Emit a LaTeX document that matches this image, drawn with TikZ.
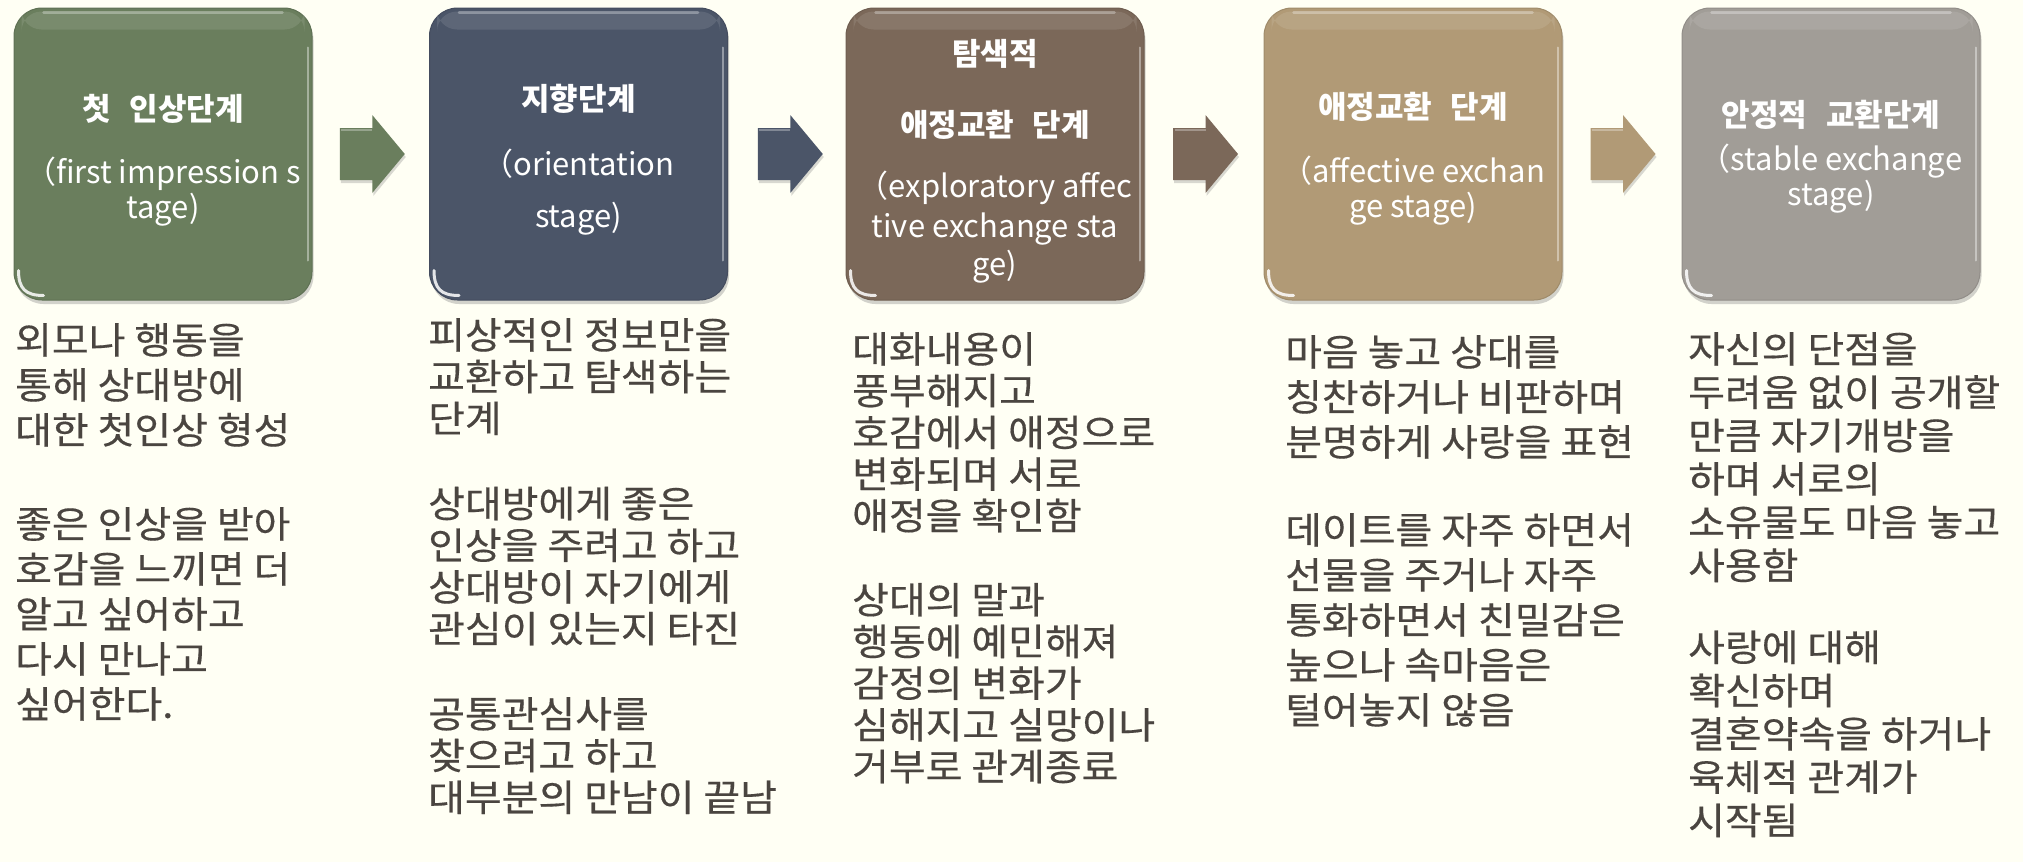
\documentclass[tikz,border=0pt]{standalone}
\usepackage{fontspec}
\setmainfont{Noto Sans CJK KR}
\newfontfamily\bodyfont{Noto Sans CJK KR}[FakeStretch=1.08, FakeBold=0.4]
\usetikzlibrary{shadows,calc}
\definecolor{bg}{HTML}{FFFFF4}
\definecolor{cA}{HTML}{6A7E5D}
\definecolor{cB}{HTML}{4B5568}
\definecolor{cC}{HTML}{7B6859}
\definecolor{cD}{HTML}{B19A76}
\definecolor{cE}{HTML}{A19D97}
\definecolor{bodyc}{HTML}{4A4540}
\tikzset{
  stagebox/.style={rounded corners=28pt, minimum width=298pt, minimum height=292pt,
    inner sep=0pt, draw=#1!90!black, line width=1pt, fill=#1,
    drop shadow={shadow xshift=1.5pt, shadow yshift=-4pt, opacity=.35}},
  ttl/.style={text=white, inner sep=0pt, anchor=base, font=\bfseries\fontsize{31}{36}\selectfont},
  eng/.style={text=white, inner sep=0pt, anchor=base, font=\fontsize{31}{36}\selectfont},
  bodytext/.style={text=bodyc, inner sep=0pt, anchor=north west, align=left},
  pics/blockarrow/.style={code={
    \fill[#1, drop shadow={shadow xshift=1pt, shadow yshift=-3pt, opacity=.3}]
      (-32.5,-26) -- (0,-26) -- (0,-39) -- (32.5,0) -- (0,39) -- (0,26) -- (-32.5,26) -- cycle;
    \draw[white, opacity=.3, line width=1.5pt] (-31,-24) -- (0,-24);
  }}
}
\newcommand\boxgloss[1]{%
  \fill[white, opacity=.10, rounded corners=20pt]
    ([shift={(8pt,-4pt)}]#1.north west) rectangle ([shift={(-8pt,-22pt)}]#1.north east);
  \draw[white, opacity=.3, line width=2.5pt, line cap=round]
    ([shift={(30pt,-5pt)}]#1.north west) -- ([shift={(-30pt,-5pt)}]#1.north east);
  \draw[white, opacity=.4, line width=2pt, line cap=round]
    ([shift={(-5pt,-40pt)}]#1.north east) -- ([shift={(-5pt,40pt)}]#1.south east);
  \draw[white, opacity=.85, line width=3pt, line cap=round]
    ([shift={(5pt,30pt)}]#1.south west) .. controls ([shift={(5pt,12pt)}]#1.south west)
    and ([shift={(12pt,5pt)}]#1.south west) .. ([shift={(30pt,5pt)}]#1.south west);
}
\begin{document}
\begin{tikzpicture}[x=1pt, y=-1pt]
\fill[bg] (0,0) rectangle (2023,862);
\useasboundingbox (0,0) rectangle (2023,862);

% boxes
\node[stagebox=cA] (b1) at (163,154) {};
\node[stagebox=cB] (b2) at (578.5,154) {};
\node[stagebox=cC] (b3) at (995,154) {};
\node[stagebox=cD] (b4) at (1413,154) {};
\node[stagebox=cE] (b5) at (1831,154) {};
\boxgloss{b1}\boxgloss{b2}\boxgloss{b3}\boxgloss{b4}\boxgloss{b5}

% block arrows between boxes
\coordinate (m1) at ($(b1.east)!.5!(b2.west)$);
\coordinate (m2) at ($(b2.east)!.5!(b3.west)$);
\coordinate (m3) at ($(b3.east)!.5!(b4.west)$);
\coordinate (m4) at ($(b4.east)!.5!(b5.west)$);
\pic at ($(m1)+(1.5,0)$) {blockarrow=cA};
\pic at ($(m2)+(3.5,0)$) {blockarrow=cB};
\pic at ($(m3)+(1.5,0)$) {blockarrow=cC};
\pic at ($(m4)+(1,0)$) {blockarrow=cD};

% box texts
\node[ttl] (t1) at (163,120) {첫\hspace{0.6em}인상단계};
\node[eng] (e1a) at (163,183) {（first impression s};
\node[eng] (e1b) at (163,218) {tage)};

\node[ttl] (t2) at (578.5,110) {지향단계};
\node[eng] (e2a) at (578.5,175) {（orientation};
\node[eng] (e2b) at (578.5,227) {stage)};

\node[ttl] (t3a) at (995,65) {탐색적};
\node[ttl] (t3b) at (995,136) {애정교환\hspace{0.6em}단계};
\node[eng] (e3a) at (995,197) {（exploratory affec};
\node[eng] (e3b) at (995,237) {tive exchange sta};
\node[eng] (e3c) at (995,275) {ge)};

\node[ttl] (t4) at (1413,118) {애정교환\hspace{0.6em}단계};
\node[eng] (e4a) at (1413,182) {（affective exchan};
\node[eng] (e4b) at (1413,217) {ge stage)};

\node[ttl] (t5) at (1831,126) {안정적\hspace{0.6em}교환단계};
\node[eng] (e5a) at (1831,170) {（stable exchange};
\node[eng] (e5b) at (1831,205) {stage)};

% descriptions
\node[bodytext, font=\bodyfont\fontsize{37}{45}\selectfont] (d1) at (15,323)
 {외모나 행동을\\통해 상대방에\\대한 첫인상 형성\\[49pt]좋은 인상을 받아\\호감을 느끼면 더\\알고 싶어하고\\다시 만나고\\싶어한다.};
\node[bodytext, font=\bodyfont\fontsize{37}{41.7}\selectfont] (d2) at (428,318)
 {피상적인 정보만을\\교환하고 탐색하는\\단계\\[43.5pt]상대방에게 좋은\\인상을 주려고 하고\\상대방이 자기에게\\관심이 있는지 타진\\[43.5pt]공통관심사를\\찾으려고 하고\\대부분의 만남이 끝남};
\node[bodytext, font=\bodyfont\fontsize{37}{41.7}\selectfont] (d3) at (852,332)
 {대화내용이\\풍부해지고\\호감에서 애정으로\\변화되며 서로\\애정을 확인함\\[42.3pt]상대의 말과\\행동에 예민해져\\감정의 변화가\\심해지고 실망이나\\거부로 관계종료};
\node[bodytext, font=\bodyfont\fontsize{37}{45}\selectfont] (d4) at (1285,335)
 {마음 놓고 상대를\\칭찬하거나 비판하며\\분명하게 사랑을 표현\\[43pt]데이트를 자주 하면서\\선물을 주거나 자주\\통화하면서 친밀감은\\높으나 속마음은\\털어놓지 않음};
\node[bodytext, font=\bodyfont\fontsize{37}{43.3}\selectfont] (d5) at (1688,332)
 {자신의 단점을\\두려움 없이 공개할\\만큼 자기개방을\\하며 서로의\\소유물도 마음 놓고\\사용함\\[38.5pt]사랑에 대해\\확신하며\\결혼약속을 하거나\\육체적 관계가\\시작됨};
\end{tikzpicture}
\end{document}
